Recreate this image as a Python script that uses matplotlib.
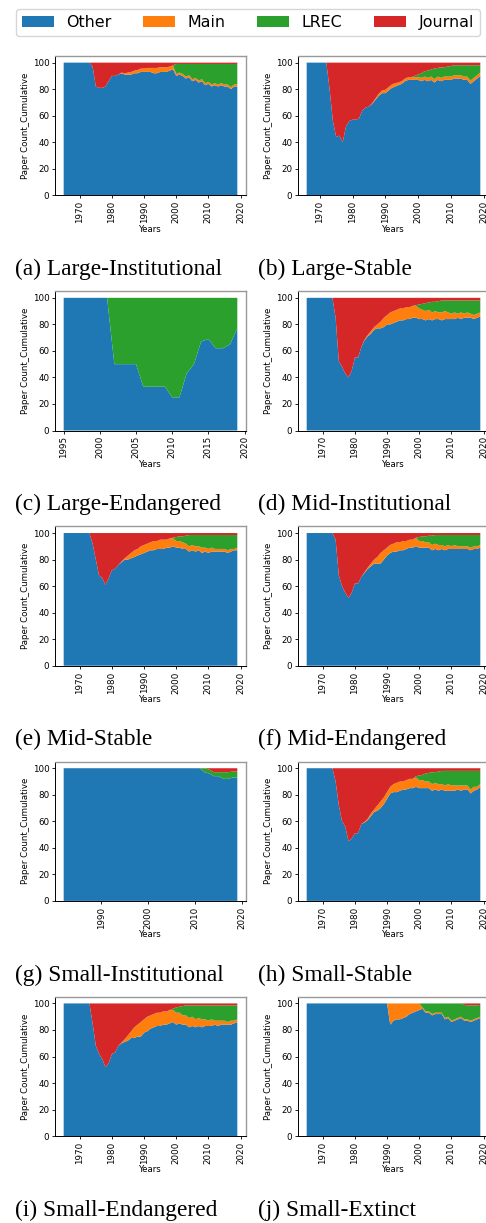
import numpy as np
import matplotlib.pyplot as plt

# ---------------- data (percent of papers, stacked) ----------------
labels = ['Other', 'Main', 'LREC', 'Journal']
colors = ['#1f77b4', '#ff7f0e', '#2ca02c', '#d62728']

years_full = list(range(1965, 2020))

# (a) Large-Institutional
a_other = [100]*9 + [97, 82, 81, 81, 82, 86, 90, 90, 91, 92, 91, 91, 91, 92, 92, 93, 93, 93, 93, 92,
                     92, 93, 93, 93, 94, 95, 90, 91, 90, 88, 89, 86, 87, 85, 86, 83,
                     84, 82, 83, 82, 83, 82, 82, 80, 82, 82]
a_main = [0]*18 + [0.5, 1, 1.5, 2, 2, 2.5, 2.5, 2.5, 3, 3, 4, 4, 3.5, 3.5, 3.5, 3, 3] + [1.5]*20
a_lrec = [0]*35 + [7.5, 6.5, 7.5, 9.5, 8.5, 11.5, 10.5, 12.5, 11.5, 14.5,
                   13.5, 15.5, 14.5, 15.5, 14.5, 15.5, 15.5, 17.5, 15.5, 15.5]
a_journal = [0]*9 + [3, 18, 19, 19, 18, 14, 10, 10, 9, 7.5, 8, 7.5, 7, 6, 5.5, 4.5, 4.5, 4, 4, 4,
                     4, 3.5, 3.5, 3.5, 3, 2] + [1]*20

# (b) Large-Stable
years_b = list(range(1966, 2020))
b_other = [100]*7 + [80, 56, 44, 45, 40, 52, 56, 57, 57, 58, 64, 66, 67, 69, 72, 75, 77, 77, 79, 81,
                     82, 83, 84, 86, 87, 87, 87, 87, 86, 87, 86, 87, 85, 87, 86, 87, 87, 87, 88, 88,
                     88, 87, 87, 84, 86, 88, 90]
b_main = [0]*20 + [0.5, 1, 1.5, 2, 2.5, 2.5, 2.5, 2.5, 2, 2, 2, 2, 2, 2, 2] + [2.5]*19
b_lrec = [0]*33 + [1, 2, 3.5, 4, 5.5, 5.5, 8, 6.5, 8, 7, 7.5, 8, 7.5, 7.5, 7.5, 8.5, 8.5, 11.5,
                   9.5, 7.5, 5.5]
b_journal = [0]*7 + [20, 44, 56, 55, 60, 48, 44, 43, 43, 42, 36, 34, 33, 30.5, 27, 23.5, 21, 20.5,
                     18.5, 16.5, 15.5, 15, 14, 12, 11, 11,
                     10, 9, 8, 6.5, 6, 5, 4.5, 4, 3.5, 3.5, 3, 2.5, 2, 2, 2, 2, 2, 2, 2, 2, 2]

# (c) Large-Endangered
years_c = list(range(1995, 2020))
c_other = [100]*7 + [50, 50, 50, 50, 33, 33, 33, 33, 25, 25, 43, 50, 67, 69, 62, 62, 65, 77]
c_main = [0]*25
c_lrec = [0]*7 + [50, 50, 50, 50, 67, 67, 67, 67, 75, 75, 57, 50, 33, 31, 38, 38, 35, 23]
c_journal = [0]*25

# (d) Mid-Institutional
d_other = [100]*9 + [85, 52, 48, 43, 40, 45, 55, 55, 63, 68, 71, 73, 76, 77, 77, 78, 80, 80, 81, 82,
                     83, 83, 84, 84, 85, 85, 84, 84, 83, 84, 83, 84, 84, 83, 84, 84,
                     84, 84, 85, 84, 85, 85, 85, 84, 85, 86]
d_main = [0]*18 + [0.5, 1, 2, 2, 3, 5, 7, 7, 9, 9, 9, 9, 9, 9, 9, 9, 9] + \
         [8, 7, 7, 7, 6, 6, 5, 6, 6, 5, 4, 5, 3, 5, 3, 4, 3, 3, 3, 3]
d_lrec = [0]*34 + [0.5, 3, 4.5, 6, 5.5, 8, 7, 8.5, 9, 8, 9, 10, 9, 10, 9, 10, 9, 10, 11, 10, 9]
d_journal = [0]*9 + [15, 48, 52, 57, 60, 55, 45, 45, 37, 31.5, 28, 25, 22, 20, 18, 15, 13, 11, 10, 9,
                     8, 8, 7, 7, 6, 5.5, 5, 4.5, 4, 3.5, 3, 3, 2.5, 2, 2, 2,
                     2, 2, 2, 2, 2, 2, 2, 2, 2, 2]

# (e) Mid-Stable
e_other = [100]*9 + [92, 80, 68, 66, 61, 66, 72, 73, 76, 78, 80, 80, 81, 82, 83, 84, 85, 86, 87, 87,
                     88, 88, 88, 89, 89, 90, 89, 89, 88, 88, 86, 87, 86, 87, 85, 86,
                     85, 86, 86, 86, 86, 86, 85, 86, 87, 87]
e_main = [0]*18 + [0.5, 1, 3, 4, 5, 5, 6, 6, 6, 6, 7, 6, 7, 7, 6, 7, 6] + \
         [5, 5, 5, 4, 4, 4, 4, 3, 4, 3, 3, 3, 2, 2, 2, 2, 2, 2, 1, 2]
e_lrec = [0]*34 + [0.5, 3, 3.5, 4.5, 6, 8.5, 7.5, 8.5, 8.5, 9.5, 9.5,
                   10.5, 9.5, 10.5, 10.5, 10.5, 10.5, 11.5, 10.5, 10.5, 9.5]
e_journal = [0]*9 + [8, 20, 32, 34, 39, 34, 28, 27, 24, 21.5, 19, 17, 15, 13, 12, 10, 9, 8, 7, 6,
                     6, 5, 5, 5, 4, 3.5, 3, 2.5, 2.5, 2] + [1.5]*16

# (f) Mid-Endangered
f_other = [100]*9 + [95, 68, 60, 55, 51, 55, 62, 62, 67, 70, 73, 75, 77, 77, 77, 80, 83, 85, 86, 86,
                     87, 87, 88, 89, 89, 90, 89, 89, 89, 89, 87, 88, 87, 88, 87, 88,
                     88, 88, 88, 88, 88, 88, 87, 88, 88, 89]
f_main = [0]*18 + [0.5, 1, 2, 3, 5, 8, 7, 6, 6, 6, 7, 6, 7, 6, 6, 6, 6] + \
         [5, 5, 4, 4, 4, 4, 4, 3, 3, 3, 2, 3, 2, 2, 2, 2, 2, 2, 2, 2]
f_lrec = [0]*34 + [0.5, 3, 3.5, 4.5, 5, 7, 6.5, 7.5, 7.5, 8.5, 7.5,
                   8.5, 7.5, 8.5, 8.5, 8.5, 8.5, 9.5, 8.5, 8.5, 7.5]
f_journal = [0]*9 + [5, 32, 40, 45, 49, 45, 38, 38, 33, 29.5, 26, 23, 20, 18, 15, 13, 11, 9, 8, 7,
                     7, 6, 6, 5, 5, 3.5, 3, 2.5, 2.5, 2, 2] + [1.5]*15

# (g) Small-Institutional
years_g = list(range(1982, 2020))
g_other = [100]*30 + [97, 96, 94, 94, 92, 92, 93, 93]
g_main = [0]*38
g_lrec = [0]*30 + [3, 3, 3, 3, 5, 5, 4.5, 4.5]
g_journal = [0]*31 + [1, 3, 3, 3, 3, 2.5, 2.5]

# (h) Small-Stable
h_other = [100]*9 + [90, 72, 60, 56, 45, 47, 51, 51, 58, 59, 61, 64, 67, 68, 70, 73, 77, 81, 82, 82,
                     83, 84, 84, 85, 85, 86, 85, 85, 85, 85, 83, 84, 83, 84, 83, 83,
                     83, 83, 84, 83, 84, 84, 81, 83, 84, 86]
h_main = [0]*18 + [0.5, 1, 2, 2, 4, 5, 5, 5, 5, 6, 7, 7, 6, 7, 7, 7, 7] + \
         [6, 6, 5, 5, 5, 5, 5, 4, 4, 5, 4, 4, 3, 4, 3, 3, 3, 3, 2, 2]
h_lrec = [0]*34 + [1, 3.5, 4, 6, 6.5, 9, 8, 9.5, 10, 11, 10, 11, 11, 11, 11, 11, 11, 14, 12, 12, 10]
h_journal = [0]*9 + [10, 28, 40, 44, 55, 53, 49, 49, 42, 40.5, 38, 34, 31, 28, 25, 22, 18, 14, 12, 11,
                     10, 10, 9, 8, 8, 6, 5.5, 5, 4, 3.5, 3, 3, 2.5] + [2]*13

# (i) Small-Endangered
i_other = [100]*9 + [85, 68, 62, 58, 52, 55, 62, 63, 68, 70, 71, 72, 74, 74, 75, 75, 78, 79, 81, 82,
                     83, 83, 84, 84, 85, 86, 84, 85, 84, 84, 82, 83, 82, 83, 82, 83,
                     83, 83, 84, 83, 84, 84, 84, 84, 85, 86]
i_main = [0]*18 + [0.5, 2, 4, 5, 8, 9, 11, 10, 11, 10, 10, 10, 10, 10, 10, 10, 9] + \
         [9, 8, 7, 7, 7, 7, 6, 6, 6, 5, 4, 5, 3, 4, 3, 3, 2, 3, 2, 2]
i_lrec = [0]*34 + [1, 4, 4.5, 7, 7.5, 9.5, 8.5, 10.5, 9.5, 10.5, 10.5,
                   11.5, 10.5, 11.5, 11.5, 11.5, 11.5, 12.5, 11.5, 11.5, 10.5]
i_journal = [0]*9 + [15, 32, 38, 42, 48, 45, 38, 37, 32, 29.5, 27, 24, 21, 18, 16, 14, 12, 10, 9, 8,
                     7, 7, 6, 6, 5, 4, 3, 2.5, 2] + [1.5]*17

# (j) Small-Extinct
j_other = [100]*26 + [84, 87, 88, 88, 89, 90, 92, 93, 94, 95, 96, 93, 93, 91, 92, 92, 92, 88, 89, 86,
                      87, 88, 89, 87, 87, 86, 87, 88, 89]
j_main = [0]*26 + [16, 13, 12, 12, 11, 10, 8, 7, 6, 5] + [1]*19
j_lrec = [0]*36 + [3, 6, 6, 8, 7, 7, 7, 11, 10, 13, 12, 11, 10, 11, 10.5, 11.5, 10.5, 9.5, 9]
j_journal = [0]*49 + [1, 1.5, 1.5, 1.5, 1.5, 1]

panels = [
    ('(a) Large-Institutional', years_full, a_other, a_main, a_lrec, a_journal),
    ('(b) Large-Stable', years_b, b_other, b_main, b_lrec, b_journal),
    ('(c) Large-Endangered', years_c, c_other, c_main, c_lrec, c_journal),
    ('(d) Mid-Institutional', years_full, d_other, d_main, d_lrec, d_journal),
    ('(e) Mid-Stable', years_full, e_other, e_main, e_lrec, e_journal),
    ('(f) Mid-Endangered', years_full, f_other, f_main, f_lrec, f_journal),
    ('(g) Small-Institutional', years_g, g_other, g_main, g_lrec, g_journal),
    ('(h) Small-Stable', years_full, h_other, h_main, h_lrec, h_journal),
    ('(i) Small-Endangered', years_full, i_other, i_main, i_lrec, i_journal),
    ('(j) Small-Extinct', years_full, j_other, j_main, j_lrec, j_journal),
]

# ---------------- layout (pixels of a 486x1223 canvas) ----------------
W, H = 486, 1223
fig = plt.figure(figsize=(W / 100, H / 100), dpi=100)

ax_top0 = 56
row_step = 235.2
ax_h = 139.3
ax_w = 191
col_x = [55, 298]
cap_x = [15, 258]
cap_base0 = 275

handles = None
for idx, (title, yrs, oth, mn, lr, jr) in enumerate(panels):
    r, c = divmod(idx, 2)
    top = ax_top0 + r * row_step
    ax = fig.add_axes([col_x[c] / W, 1 - (top + ax_h) / H, ax_w / W, ax_h / H])
    polys = ax.stackplot(yrs, oth, mn, lr, jr, colors=colors, labels=labels)
    if handles is None:
        handles = polys
    ax.tick_params(axis='x', labelrotation=90)
    ax.tick_params(labelsize=6.3, length=2.5, width=0.6, pad=1.5)
    ax.set_xlabel('Years', fontsize=6.2, labelpad=1)
    ax.set_ylabel('Paper Count_Cumulative', fontsize=6.2, labelpad=2)
    for s in ['top', 'right']:
        ax.spines[s].set_color('#999999')
        ax.spines[s].set_linewidth(1.0)
    for s in ['left', 'bottom']:
        ax.spines[s].set_linewidth(0.7)
    fig.text(cap_x[c] / W, 1 - (cap_base0 + r * row_step) / H, title,
             family='Liberation Serif', fontsize=16.8, va='baseline', ha='left')

fig.legend(handles, labels, loc='center', ncol=4, fontsize=11.4,
           bbox_to_anchor=(248 / W, 1 - 22.5 / H), frameon=True,
           borderaxespad=0.0)

fig.savefig('out.png', dpi=100)
